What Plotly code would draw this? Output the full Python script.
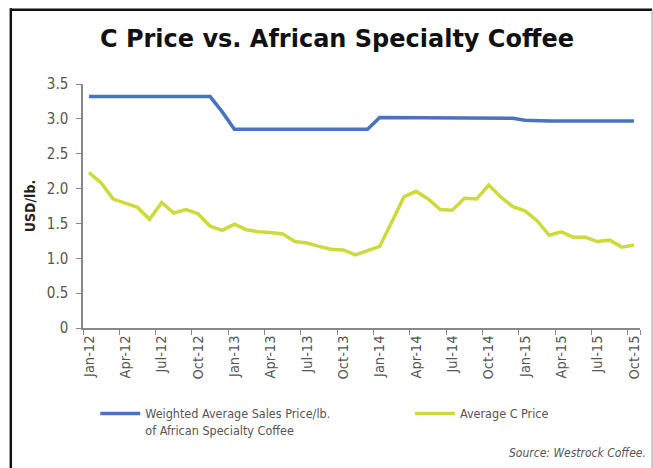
import plotly.graph_objects as go

# Monthly categories, Jan-12 through Oct-15
years = ["12", "13", "14", "15"]
month_names = ["Jan", "Feb", "Mar", "Apr", "May", "Jun",
               "Jul", "Aug", "Sep", "Oct", "Nov", "Dec"]
months = [f"{m}-{y}" for y in years for m in month_names][:46]

# Weighted average sales price per lb of African specialty coffee (USD)
specialty_price = [
    3.32, 3.32, 3.32, 3.32, 3.32, 3.32, 3.32, 3.32, 3.32, 3.32, 3.32, 3.10,
    2.85, 2.85, 2.85, 2.85, 2.85, 2.85, 2.85, 2.85, 2.85, 2.85, 2.85, 2.85,
    3.02, 3.02, 3.02, 3.02, 3.02, 3.02, 3.02, 3.02, 3.02, 3.02, 3.02, 3.01,
    2.98, 2.97, 2.97, 2.97, 2.97, 2.97, 2.97, 2.97, 2.97, 2.97,
]

# Average C price (USD/lb)
c_price = [
    2.23, 2.08, 1.85, 1.79, 1.73, 1.56, 1.80, 1.65, 1.70, 1.64, 1.46, 1.40,
    1.49, 1.41, 1.38, 1.37, 1.35, 1.24, 1.22, 1.17, 1.13, 1.12, 1.05, 1.11,
    1.17, 1.52, 1.88, 1.96, 1.85, 1.70, 1.69, 1.86, 1.85, 2.05, 1.88, 1.74,
    1.68, 1.54, 1.33, 1.38, 1.30, 1.30, 1.24, 1.26, 1.16, 1.19,
]

x_ticks = months[::3]
y_ticks = [0, 0.5, 1.0, 1.5, 2.0, 2.5, 3.0, 3.5]
y_tick_text = ["0", "0.5", "1.0", "1.5", "2.0", "2.5", "3.0", "3.5"]

NARROW = "DejaVu Sans Condensed, Liberation Sans Narrow, Arial Narrow, sans-serif"
BLUE = "#4874bf"
YELLOW = "#cdda3c"
LEGEND_FONT = dict(family=NARROW, size=12.5, color="#555555")

fig = go.Figure()
fig.add_trace(go.Scatter(
    x=months, y=specialty_price, mode="lines",
    name="Weighted Average Sales Price/lb.<br>of African Specialty Coffee",
    line=dict(color=BLUE, width=3.5), legend="legend",
))
fig.add_trace(go.Scatter(
    x=months, y=c_price, mode="lines",
    name="Average C Price",
    line=dict(color=YELLOW, width=3.5), legend="legend2",
))

fig.update_layout(
    width=653, height=468,
    margin=dict(l=83, r=13, t=84, b=140),
    paper_bgcolor="white", plot_bgcolor="white",
    title=dict(
        text="<b>C Price vs. African Specialty Coffee</b>",
        x=0.516, xanchor="center", xref="container",
        y=0.918, yanchor="middle",
        font=dict(family="DejaVu Sans, Liberation Sans, sans-serif", size=24, color="#111111"),
    ),
    showlegend=True,
    legend=dict(
        x=0.022, xanchor="left", y=-0.29, yanchor="top",
        xref="paper", yref="paper",
        font=LEGEND_FONT, bgcolor="rgba(0,0,0,0)", itemwidth=40, valign="top",
    ),
    legend2=dict(
        x=0.587, xanchor="left", y=-0.29, yanchor="top",
        xref="paper", yref="paper",
        font=LEGEND_FONT, bgcolor="rgba(0,0,0,0)", itemwidth=40, valign="top",
    ),
    xaxis=dict(
        type="category", range=[-0.5, 45.5],
        tickmode="array", tickvals=x_ticks, ticktext=x_ticks,
        tickson="boundaries", tickangle=-90,
        ticks="outside", ticklen=5, tickcolor="#888888", tickwidth=1,
        showline=True, linecolor="#888888", linewidth=1.5,
        showgrid=False, zeroline=False,
        tickfont=dict(family=NARROW, size=14.5, color="#555555"),
    ),
    yaxis=dict(
        range=[0, 3.5],
        tickmode="array", tickvals=y_ticks, ticktext=y_tick_text,
        ticks="outside", ticklen=5, tickcolor="#888888", tickwidth=1,
        showline=True, linecolor="#888888", linewidth=1.5,
        showgrid=False, zeroline=False, ticklabelstandoff=5,
        tickfont=dict(family=NARROW, size=15, color="#555555"),
        title=dict(text="<b>USD/lb.</b>", standoff=8,
                   font=dict(family=NARROW, size=14, color="#222222")),
    ),
    annotations=[
        dict(text="<i>Source: Westrock Coffee.</i>", xref="paper", yref="paper",
             x=1.014, xanchor="right", y=-0.511, yanchor="middle", showarrow=False,
             font=dict(family=NARROW, size=12, color="#555555")),
    ],
    shapes=[
        # frame around the chart
        dict(type="line", xref="paper", yref="paper",
             x0=-0.1296, x1=-0.1296, y0=1.31, y1=-0.7,
             line=dict(color="#111111", width=2.5)),
        dict(type="line", xref="paper", yref="paper",
             x0=-0.1296, x1=1.0216, y0=1.304, y1=1.304,
             line=dict(color="#111111", width=2.5)),
        dict(type="line", xref="paper", yref="paper",
             x0=1.0216, x1=1.0216, y0=1.304, y1=-0.7,
             line=dict(color="#999999", width=1)),
    ],
)

fig.write_html("out.html")
